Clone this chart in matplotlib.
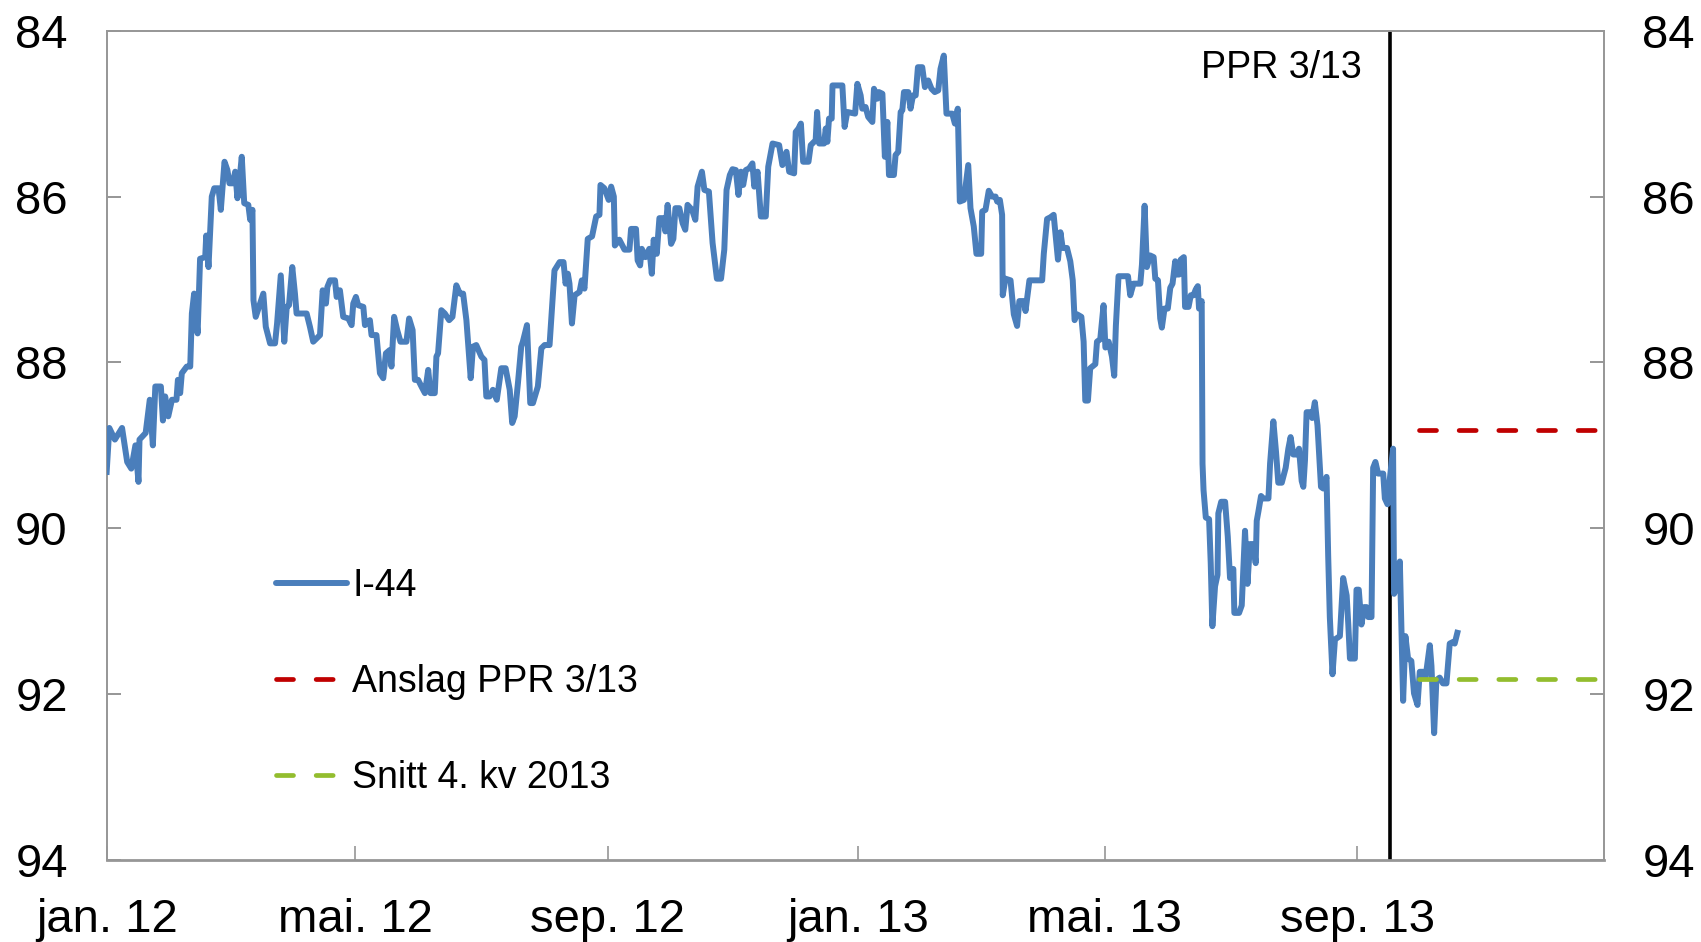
import numpy as np
import pandas as pd
import matplotlib
matplotlib.use('Agg')
import matplotlib.pyplot as plt
from matplotlib.lines import Line2D

plt.rcParams['font.family'] = ['Liberation Sans', 'DejaVu Sans']

# I-44, days counted from 1 Jan 2012
i44_days = [
    0, 1.3, 4, 7.5, 10, 12, 14, 15.5, 16, 19, 21, 22.5, 23.7, 26.4, 27.4, 28.5, 30, 31.8, 34, 34.7,
    35.8, 36.6, 39, 40.7, 41.5, 42.6, 44.3, 45.5, 48, 48.5, 49.6, 51.2, 52.4, 54.5, 55.6, 57.4, 58.8, 59.8, 61.4, 62.6,
    63.7, 64.7, 65.8, 67, 69, 69.9, 71, 71.5, 72.6, 74.7, 76.3, 77.5, 79.6, 82, 83, 84.8, 86.5, 87.7, 88.8, 90.4,
    91.7, 92.5, 97.4, 99, 100.6, 103.9, 105.2, 106.8, 107.5, 108.8, 111.2, 112, 113.6, 115.2, 117.7, 119.3, 120.1, 121.4, 122.5, 125,
    125.8, 128.2, 129, 131.4, 133.1, 134.7, 136, 137.9, 138.7, 140, 141.5, 143.1, 146, 147.3, 149, 150.1, 151.7, 153.3, 155, 156.6,
    157.7, 159.8, 160.6, 161.4, 163, 164.7, 166.8, 168.4, 170.3, 172, 173.6, 175.2, 177.3, 178.4, 180, 182.5, 184, 184.9, 186.5, 188.1,
    190, 192.2, 194.3, 196.3, 197.5, 198.7, 200.3, 201.9, 202.7, 204.7, 206.3, 207.6, 210, 211.7, 213.3, 215.7, 218.1, 220.6, 222.5, 223.5,
    224.6, 225.4, 226.6, 227.9, 230.3, 231.4, 232.7, 234.3, 236.4, 238.4, 240, 240.5, 242.4, 244.5, 245.7, 247, 247.5, 249.7, 252.2, 254.6,
    255.4, 257.8, 258.6, 259.8, 260.6, 262.4, 264.3, 265.5, 266.4, 267.9, 269.2, 271.3, 272.1, 273.2, 274.9, 276, 277, 278.9, 280.5, 281.8,
    282.9, 285.1, 286.7, 287.8, 289.9, 291.1, 293.3, 295.1, 297.2, 299.2, 300.8, 301.9, 303.5, 304.8, 306.4, 307.7, 308.9, 310, 311.3, 312.9,
    314.5, 315.4, 317, 318.6, 321, 322.2, 324.3, 327.5, 329.1, 331.1, 332.4, 334.8, 335.6, 336.9, 338.1, 339.2, 341.8, 342.9, 345.3, 346,
    347, 349.4, 350.2, 351, 351.8, 353.1, 353.5, 358.3, 359.4, 360.7, 364.5, 365.6, 367.2, 368, 369.6, 370.9, 372.9, 373.7, 375.3, 376.1,
    377.8, 379, 380.2, 381, 383.4, 384.2, 385.5, 386.7, 387.5, 388.3, 390.4, 391.5, 392.7, 394, 395.1, 397.2, 398.5, 400.1, 401.7, 403.3,
    405, 406.1, 407.7, 409, 411.8, 413.1, 414.5, 415.5, 417.5, 419.6, 420.7, 422.3, 423.6, 425.9, 426.4, 428, 429.6, 431.2, 432.9, 433.7,
    435, 436.1, 436.4, 437.7, 440.2, 441.8, 443.4, 444.5, 446.7, 447.5, 449.4, 455.6, 456.4, 458, 459.6, 461.2, 463.3, 464.5, 465.6, 467.7,
    469.3, 470.5, 471.4, 472.6, 474.7, 475.8, 476.6, 477.9, 479, 481.5, 482.3, 483.9, 485.5, 486.4, 488, 489.6, 490.7, 491.5, 492.8, 495.8,
    497.4, 498.5, 500.1, 503.4, 504.2, 505.5, 506.6, 508.2, 509.9, 510.7, 512, 513.1, 513.9, 515.2, 516.8, 518, 519.1, 520.4, 521.2, 522.3,
    523.1, 524.6, 525.2, 526.9, 528, 529.3, 530.4, 531.4, 532, 533.3, 533.7, 534.2, 535.3, 536.9, 537.7, 538.5, 539.8, 541, 541.4, 542.8,
    544.7, 546, 547.1, 548.7, 549.2, 551.5, 552.8, 554.4, 555.6, 556.8, 558.5, 559.6, 560.1, 560.9, 562.2, 563.3, 565.8, 566.6, 568.2, 569.5,
    570.6, 572.3, 574.2, 575.5, 576.6, 577.9, 579.5, 580.7, 582, 582.8, 583.6, 584.4, 586, 587.1, 588.4, 589.7, 591.4, 592.5, 594.1, 594.9,
    595.7, 597, 598.2, 600.6, 602.2, 603.9, 604.7, 605.5, 607.9, 608.7, 609.8, 611.1, 612.4, 613.6, 614.4, 616, 616.8, 617.9, 619.2, 621.7,
    622.5, 623.8, 624.9, 626.5, 627, 628.1, 629.8, 631.4, 632.5, 633.8, 635.4, 636.7, 638.4, 639.5, 641.1, 642.3, 644.4, 645.2, 646.5, 647.6,
    649.2, 650.8, 652.5, 654.1, 655.7, 656.5, 657.8,
]
i44_values = [
    89.32, 88.79, 88.93, 88.79, 89.2, 89.28, 89.0, 89.44, 88.93, 88.85, 88.45, 89.0, 88.29, 88.29, 88.7, 88.41, 88.65, 88.45, 88.45, 88.21,
    88.37, 88.13, 88.05, 88.05, 87.41, 87.17, 87.65, 86.75, 86.73, 86.47, 86.85, 86.0, 85.9, 85.9, 86.16, 85.58, 85.68, 85.84, 85.84, 85.70,
    86.02, 85.80, 85.52, 86.08, 86.1, 86.28, 86.16, 87.25, 87.45, 87.29, 87.17, 87.57, 87.77, 87.77, 87.53, 86.95, 87.75, 87.33, 87.31, 86.85,
    87.17, 87.41, 87.41, 87.57, 87.75, 87.67, 87.13, 87.29, 87.09, 87.01, 87.01, 87.21, 87.13, 87.45, 87.47, 87.55, 87.29, 87.21, 87.31, 87.33,
    87.55, 87.49, 87.67, 87.67, 88.13, 88.19, 87.89, 87.85, 88.05, 87.45, 87.61, 87.75, 87.75, 87.47, 87.61, 88.21, 88.21, 88.29, 88.37, 88.09,
    88.37, 88.37, 87.93, 87.89, 87.37, 87.41, 87.49, 87.45, 87.07, 87.17, 87.17, 87.49, 88.19, 87.81, 87.79, 87.93, 87.97, 88.41, 88.41, 88.33,
    88.45, 88.07, 88.07, 88.33, 88.73, 88.65, 88.25, 87.81, 87.75, 87.55, 88.49, 88.49, 88.29, 87.83, 87.79, 87.79, 86.89, 86.79, 86.79, 87.05,
    86.93, 87.05, 87.53, 87.19, 87.15, 87.01, 87.11, 86.51, 86.48, 86.24, 86.22, 85.86, 85.90, 86.04, 85.88, 86.0, 86.59, 86.52, 86.64, 86.64,
    86.39, 86.39, 86.77, 86.83, 86.63, 86.73, 86.63, 86.93, 86.52, 86.69, 86.26, 86.26, 86.42, 86.10, 86.57, 86.51, 86.14, 86.14, 86.32, 86.40,
    86.10, 86.16, 86.28, 85.88, 85.70, 85.92, 85.94, 86.56, 86.99, 86.99, 86.64, 85.92, 85.74, 85.67, 85.68, 85.98, 85.70, 85.86, 85.68, 85.66,
    85.60, 85.88, 85.70, 86.24, 86.24, 85.64, 85.36, 85.38, 85.62, 85.46, 85.70, 85.72, 85.22, 85.18, 85.12, 85.58, 85.58, 85.38, 85.32, 84.98,
    85.36, 85.36, 85.18, 85.34, 85.06, 85.06, 84.66, 84.66, 85.16, 84.98, 85.0, 84.64, 84.78, 84.94, 84.92, 85.04, 85.10, 84.70, 84.82, 84.74,
    84.76, 85.52, 85.10, 85.74, 85.74, 85.50, 85.46, 84.98, 84.96, 84.74, 84.74, 84.94, 84.78, 84.78, 84.44, 84.44, 84.68, 84.60, 84.70, 84.74,
    84.72, 84.46, 84.30, 85.0, 85.0, 85.12, 84.94, 86.06, 86.04, 85.62, 86.14, 86.36, 86.69, 86.69, 86.18, 86.16, 85.93, 86.0, 86.0, 86.06,
    86.04, 86.22, 87.19, 86.99, 87.01, 87.42, 87.56, 87.26, 87.26, 87.38, 87.01, 87.01, 86.69, 86.27, 86.25, 86.22, 86.76, 86.43, 86.62, 86.62,
    86.78, 87.01, 87.49, 87.42, 87.45, 87.75, 88.46, 88.46, 88.07, 88.02, 87.75, 87.72, 87.31, 87.82, 87.75, 87.93, 88.16, 87.56, 86.96, 86.96,
    86.96, 87.19, 87.05, 87.05, 86.82, 86.11, 86.85, 86.71, 86.73, 86.99, 87.01, 87.47, 87.58, 87.35, 87.35, 87.10, 87.05, 86.78, 86.94, 86.94,
    86.76, 86.73, 87.33, 87.33, 87.19, 87.19, 87.12, 87.08, 87.35, 87.26, 89.22, 89.54, 89.87, 89.89, 90.42, 91.18, 90.70, 90.56, 89.82, 89.68,
    89.68, 90.10, 90.60, 90.49, 91.02, 91.02, 90.93, 90.03, 90.67, 90.19, 90.19, 90.42, 89.91, 89.80, 89.61, 89.64, 89.64, 89.22, 88.71, 89.08,
    89.45, 89.45, 89.27, 89.04, 88.90, 89.11, 89.11, 89.04, 89.43, 89.50, 89.18, 88.60, 88.60, 88.67, 88.48, 88.76, 89.50, 89.52, 89.38, 90.33,
    91.07, 91.76, 91.34, 91.30, 90.60, 90.81, 91.16, 91.57, 91.57, 90.74, 90.74, 91.16, 90.95, 90.95, 91.07, 91.07, 89.27, 89.20, 89.34, 89.34,
    89.64, 89.71, 89.41, 89.04, 90.79, 90.72, 90.40, 92.08, 91.30, 91.57, 91.60, 91.99, 92.13, 91.73, 91.73, 91.80, 91.41, 91.66, 92.47, 91.83,
    91.80, 91.87, 91.87, 91.39, 91.37, 91.39, 91.26,
]

ppr_date = '2013-09-17'
q4_period = ['2013-10-01', '2013-12-31']
anslag_ppr = 88.82
snitt_q4 = 91.82

tick_dates = ['2012-01-01', '2012-05-01', '2012-09-01', '2013-01-01', '2013-05-01', '2013-09-01']
tick_labels = ['jan. 12', 'mai. 12', 'sep. 12', 'jan. 13', 'mai. 13', 'sep. 13']
y_ticks = [84, 86, 88, 90, 92, 94]

blue = '#4a7ebb'
red = '#c00000'
green = '#93bd2e'
grey = '#969696'

dates = pd.Timestamp('2012-01-01') + pd.to_timedelta(i44_days, unit='D')
q4 = pd.to_datetime(q4_period)

fig = plt.figure(figsize=(17.01, 9.42), dpi=100)
ax = fig.add_axes([0.0627, 0.087, 0.88, 0.8804])

ax.axvline(pd.Timestamp(ppr_date), color='black', lw=2.6, zorder=2)
ax.plot(dates, i44_values, color=blue, lw=4.3, solid_joinstyle='round', zorder=3)
ax.plot(q4, [anslag_ppr, anslag_ppr], color=red, lw=3.4, dashes=(3.6, 4.8),
        dash_capstyle='round', zorder=3)
ax.plot(q4, [snitt_q4, snitt_q4], color=green, lw=3.4, dashes=(3.6, 4.8),
        dash_capstyle='round', zorder=3)

ax.annotate('PPR 3/13', xy=(pd.Timestamp(ppr_date), 0.955), xycoords=('data', 'axes fraction'),
            xytext=(-20, 0), textcoords='offset points', ha='right', va='center', fontsize=27)

ax.set_xlim(pd.Timestamp('2012-01-01'), pd.Timestamp('2013-12-30'))
ax.set_ylim(94, 84)
ax.set_yticks(y_ticks)
ax.set_xticks(pd.to_datetime(tick_dates))
ax.set_xticklabels(tick_labels)

for side in ['left', 'right', 'top', 'bottom']:
    ax.spines[side].set_color(grey)
    ax.spines[side].set_linewidth(1.4)
ax.spines['bottom'].set_linewidth(2)

ax.tick_params(axis='y', direction='in', length=10, width=1.4, color=grey,
               left=True, right=True, labelleft=True, labelright=True, labelsize=34, pad=28)
ax.tick_params(axis='x', direction='in', length=10, width=1.2, color=grey,
               labelsize=34, pad=27)

handles = [
    Line2D([], [], color=blue, lw=4.3, solid_capstyle='round'),
    Line2D([], [], color=red, lw=3.4, dashes=(3.6, 4.8), dash_capstyle='round'),
    Line2D([], [], color=green, lw=3.4, dashes=(3.6, 4.8), dash_capstyle='round'),
]
ax.legend(handles, ['I-44', 'Anslag PPR 3/13', 'Snitt 4. kv 2013'],
          loc='upper left', bbox_to_anchor=(0.113, 0.352), frameon=False,
          fontsize=27, handlelength=1.9, handletextpad=0.14, labelspacing=1.6,
          borderpad=0, borderaxespad=0)

fig.savefig('out.png', dpi=100)
